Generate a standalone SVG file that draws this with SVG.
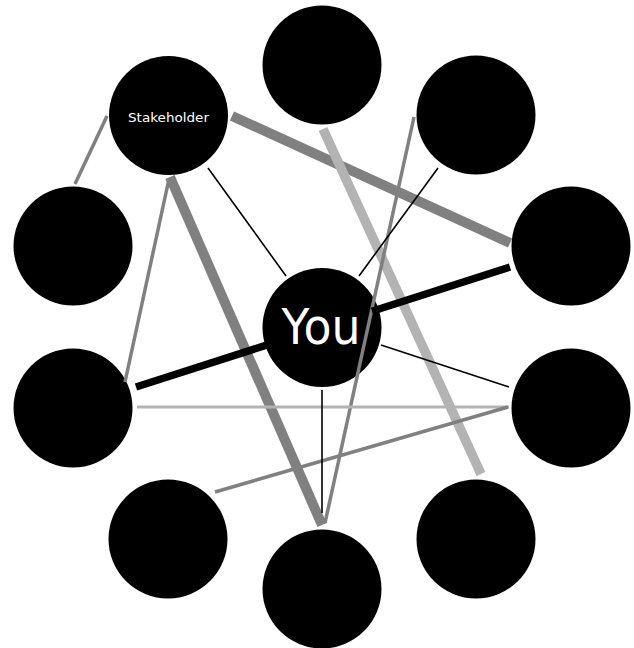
<svg xmlns="http://www.w3.org/2000/svg" width="634" height="648" viewBox="0 0 634 648">
<style>
.node{fill:#000}
.lbl{fill:#fff;font-family:"DejaVu Sans","Liberation Sans",sans-serif;text-anchor:middle}
.c{fill:none;stroke-linecap:butt}
.g{stroke:#808080}
.lg{stroke:#b3b3b3}
.k{stroke:#000}
</style>
<rect width="634" height="648" fill="#fff"/>
<g id="node-top"><circle class="node" cx="322" cy="65" r="59.5"/></g>
<g id="node-topright"><circle class="node" cx="476" cy="115" r="59.5"/></g>
<g id="node-right"><circle class="node" cx="571" cy="246" r="59.5"/></g>
<g id="node-rightlower"><circle class="node" cx="571" cy="408" r="59.5"/></g>
<g id="node-bottomright"><circle class="node" cx="476" cy="539" r="59.5"/></g>
<g id="node-bottom"><circle class="node" cx="322" cy="589" r="59.5"/></g>
<g id="node-bottomleft"><circle class="node" cx="168" cy="539" r="59.5"/></g>
<g id="node-leftlower"><circle class="node" cx="73" cy="408" r="59.5"/></g>
<g id="node-left"><circle class="node" cx="73" cy="246" r="59.5"/></g>
<g id="node-stakeholder"><circle class="node" cx="168.5" cy="115.5" r="59.5"/><text class="lbl" x="168.5" y="121.5" font-size="13" textLength="81" lengthAdjust="spacingAndGlyphs">Stakeholder</text></g>
<g id="node-you"><circle class="node" cx="322" cy="327.5" r="59.5"/><text class="lbl" x="321" y="343.5" font-size="50" textLength="79" lengthAdjust="spacingAndGlyphs">You</text></g>
<g id="connectors">
<line class="c g" stroke-width="3.5" x1="107" y1="116" x2="75" y2="184"/>
<line class="c g" stroke-width="10" x1="232" y1="116" x2="510" y2="243"/>
<line class="c lg" stroke-width="9.5" x1="323" y1="129" x2="481" y2="474"/>
<line class="c g" stroke-width="3.5" x1="414" y1="117" x2="325" y2="523"/>
<line class="c k" stroke-width="1.6" x1="438" y1="168" x2="359" y2="276"/>
<line class="c k" stroke-width="1.6" x1="208" y1="168" x2="286" y2="276"/>
<line class="c g" stroke-width="10" x1="170" y1="177" x2="322" y2="525"/>
<line class="c g" stroke-width="3.5" x1="169" y1="179" x2="125" y2="382"/>
<path class="c k" stroke-width="7.5" d="M136 387 L272 343.4 M372 311.3 L510 267"/>
<line class="c k" stroke-width="1.6" x1="381" y1="345" x2="509" y2="387"/>
<line class="c lg" stroke-width="2.8" x1="137" y1="407" x2="509" y2="407"/>
<line class="c g" stroke-width="3.5" x1="508" y1="407" x2="215" y2="492"/>
<line class="c k" stroke-width="1.6" x1="322" y1="390" x2="322" y2="513"/>
</g>
</svg>
